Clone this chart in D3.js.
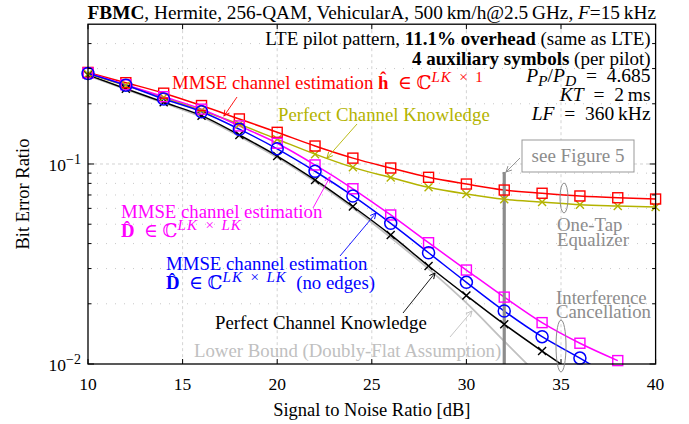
<!DOCTYPE html>
<html>
<head>
<meta charset="utf-8">
<script src="https://cdn.jsdelivr.net/npm/d3@7"></script>
<style>
  body { margin: 0; background: #fff; }
  svg, text, tspan { font-family: "Liberation Serif", "Times New Roman", Times, "DejaVu Serif", serif; }
</style>
</head>
<body>
<div id="chart"></div>
<script>
// values (BER vs SNR)
const snr = [10, 12, 14, 16, 18, 20, 22, 24, 26, 28, 30, 32, 34, 36, 38, 40];

const berMmseH        = [0.287, 0.255, 0.226, 0.196, 0.168, 0.144, 0.123, 0.107, 0.0955, 0.0858, 0.0794, 0.0741, 0.0714, 0.0692, 0.0678, 0.0668];
const berPerfectOneTap = [0.282, 0.247, 0.215, 0.185, 0.158, 0.133, 0.112, 0.0962, 0.0856, 0.0765, 0.0708, 0.0666, 0.0646, 0.0626, 0.0617, 0.0610];
const berMmseD        = [0.285, 0.249, 0.217, 0.188, 0.155, 0.127, 0.0989, 0.0752, 0.0556, 0.0404, 0.0295, 0.0216, 0.0161, 0.0127, 0.0104];
const berMmseDNoEdges = [0.2835, 0.2474, 0.2113, 0.1826, 0.1493, 0.1191, 0.0920, 0.0692, 0.0505, 0.0360, 0.0256, 0.0184, 0.0137, 0.0107, 0.0082];
const berPerfectIC    = [0.2786, 0.2379, 0.2035, 0.1744, 0.1396, 0.1096, 0.0832, 0.0613, 0.0442, 0.0309, 0.0220, 0.0158, 0.0116, 0.0086];
const berLowerBound   = [0.2770, 0.2358, 0.2018, 0.1718, 0.1373, 0.1078, 0.0818, 0.0603, 0.0429, 0.0299, 0.0202, 0.0130, 0.0084];

const xTicks = [10, 15, 20, 25, 30, 35, 40];
const yMajor = [0.01, 0.1];
const yMinor = [0.02, 0.03, 0.04, 0.05, 0.06, 0.07, 0.08, 0.09, 0.2, 0.3, 0.4];
const figureMarkSnr = 32;

const width = 689, height = 424;
const margin = { top: 24.2, right: 33.4, bottom: 60, left: 88 };
const serif = "'Liberation Serif', 'Times New Roman', Times, 'DejaVu Serif', serif";
const labelSize = 18.8;

const svg = d3.select("#chart").append("svg")
  .attr("width", width)
  .attr("height", height)
  .attr("font-family", serif);

svg.append("rect").attr("width", width).attr("height", height).attr("fill", "#fff");

const x = d3.scaleLinear().domain([10, 40]).range([margin.left, width - margin.right]);
const y = d3.scaleLog().domain([0.01, 0.5]).range([height - margin.bottom, margin.top]);

const x0 = x.range()[0], x1 = x.range()[1];
const yb = y.range()[0], yt = y.range()[1];

const defs = svg.append("defs");
defs.append("clipPath").attr("id", "plot-clip")
  .append("rect").attr("x", x0).attr("y", yt).attr("width", x1 - x0).attr("height", yb - yt);

function arrowHead(id, color) {
  defs.append("marker")
    .attr("id", id)
    .attr("viewBox", "0 0 10 10")
    .attr("refX", 9).attr("refY", 5)
    .attr("markerWidth", 7).attr("markerHeight", 7)
    .attr("markerUnits", "userSpaceOnUse")
    .attr("orient", "auto")
    .append("path")
    .attr("d", "M1,1 L9,5 L1,9")
    .attr("fill", "none")
    .attr("stroke", color)
    .attr("stroke-width", 1.3);
}

// grid
const grid = svg.append("g");
grid.selectAll(".vgrid").data(xTicks.slice(1, -1)).enter().append("line")
  .attr("x1", d => x(d)).attr("x2", d => x(d))
  .attr("y1", yt).attr("y2", yb)
  .attr("stroke", "#c8c8c8").attr("stroke-width", 0.8).attr("stroke-dasharray", "3,3");
grid.selectAll(".hmajor").data([0.1]).enter().append("line")
  .attr("x1", x0).attr("x2", x1)
  .attr("y1", d => y(d)).attr("y2", d => y(d))
  .attr("stroke", "#c8c8c8").attr("stroke-width", 0.8).attr("stroke-dasharray", "3,3");
grid.selectAll(".hminor").data(yMinor).enter().append("line")
  .attr("x1", x0).attr("x2", x1)
  .attr("y1", d => y(d)).attr("y2", d => y(d))
  .attr("stroke", "#c8c8c8").attr("stroke-width", 1).attr("stroke-dasharray", "1,8");

// series
const series = [
  { key: "lower",   values: berLowerBound,    color: "#c0c0c0", marker: "none",   width: 1.8 },
  { key: "perfIC",  values: berPerfectIC,     color: "#000000", marker: "x",      width: 1.5 },
  { key: "perf1",   values: berPerfectOneTap, color: "#b3b300", marker: "x",      width: 1.5 },
  { key: "mmseH",   values: berMmseH,         color: "#ff0000", marker: "square", width: 1.5 },
  { key: "mmseD",   values: berMmseD,         color: "#ff00ff", marker: "square", width: 1.5 },
  { key: "mmseDne", values: berMmseDNoEdges,  color: "#0000ff", marker: "circle", width: 1.5 }
];

const line = d3.line()
  .x(d => x(d[0]))
  .y(d => y(d[1]))
  .curve(d3.curveMonotoneX);

const lines = svg.append("g").attr("clip-path", "url(#plot-clip)");

// see Figure 5 bar
svg.append("line")
  .attr("x1", x(figureMarkSnr)).attr("x2", x(figureMarkSnr))
  .attr("y1", 172).attr("y2", yb)
  .attr("stroke", "#8c8c8c").attr("stroke-width", 3.2);

series.forEach(s => {
  const pts = s.values.map((v, i) => [snr[i], v]);
  lines.append("path")
    .datum(pts)
    .attr("d", line)
    .attr("fill", "none")
    .attr("stroke", s.color)
    .attr("stroke-width", s.width);

  const vis = pts.filter(p => p[1] >= 0.01);
  const g = svg.append("g");
  if (s.marker === "square") {
    g.selectAll("rect").data(vis).enter().append("rect")
      .attr("x", d => x(d[0]) - 5).attr("y", d => y(d[1]) - 5)
      .attr("width", 10).attr("height", 10)
      .attr("fill", "none").attr("stroke", s.color).attr("stroke-width", 1.4);
  } else if (s.marker === "circle") {
    g.selectAll("circle").data(vis).enter().append("circle")
      .attr("cx", d => x(d[0])).attr("cy", d => y(d[1])).attr("r", 6)
      .attr("fill", "none").attr("stroke", s.color).attr("stroke-width", 1.5);
  } else if (s.marker === "x") {
    g.selectAll("path").data(vis).enter().append("path")
      .attr("d", d => {
        const cx = x(d[0]), cy = y(d[1]), r = 4;
        return `M${cx - r},${cy - r}L${cx + r},${cy + r}M${cx - r},${cy + r}L${cx + r},${cy - r}`;
      })
      .attr("stroke", s.color).attr("stroke-width", 1.4);
  }
});

// frame and ticks
svg.append("rect")
  .attr("x", x0).attr("y", yt).attr("width", x1 - x0).attr("height", yb - yt)
  .attr("fill", "none").attr("stroke", "#000").attr("stroke-width", 1.3);

const ticks = svg.append("g").attr("stroke", "#000").attr("stroke-width", 1);
xTicks.forEach(t => {
  ticks.append("line").attr("x1", x(t)).attr("x2", x(t)).attr("y1", yb).attr("y2", yb - 5);
  ticks.append("line").attr("x1", x(t)).attr("x2", x(t)).attr("y1", yt).attr("y2", yt + 5);
});
yMajor.concat(yMinor).forEach(t => {
  const len = yMajor.includes(t) ? 6 : 3.5;
  ticks.append("line").attr("x1", x0).attr("x2", x0 + len).attr("y1", y(t)).attr("y2", y(t));
  ticks.append("line").attr("x1", x1).attr("x2", x1 - len).attr("y1", y(t)).attr("y2", y(t));
});

// rich text helper: parts = [[text, flags]]
// flags: b bold, i italic, ^ sup, _ sub, L wider letter spacing
function richText(x, yy, parts, opts) {
  const size = opts.size || labelSize;
  const t = svg.append("text")
    .attr("x", x).attr("y", yy)
    .attr("text-anchor", opts.anchor || "start")
    .attr("fill", opts.color || "#000")
    .style("font-size", size + "px");
  let shift = 0;
  parts.forEach(p => {
    const s = p[0], f = p[1] || "";
    const ts = t.append("tspan").text(s);
    let target = 0;
    if (f.includes("^")) target = -size * 0.38;
    if (f.includes("_")) target = size * 0.22;
    if (target !== shift) { ts.attr("dy", target - shift); shift = target; }
    if (f.includes("^") || f.includes("_")) ts.style("font-size", (size * 0.8) + "px");
    if (f.includes("b")) ts.style("font-weight", "bold");
    if (f.includes("i")) ts.style("font-style", "italic");
    if (f.includes("L")) ts.style("letter-spacing", "1px");
  });
  return t;
}

// tick labels
xTicks.forEach(t => {
  svg.append("text").attr("x", x(t)).attr("y", 390)
    .attr("text-anchor", "middle").style("font-size", "17.5px").text(t);
});
yMajor.forEach(t => {
  richText(x0 - 7, y(t) + 7, [["10"], ["\u2212" + (-Math.log10(t)), "^"]], { size: 17.5, anchor: "end" });
});

// axis titles
svg.append("text").attr("x", (x0 + x1) / 2).attr("y", 416)
  .attr("text-anchor", "middle").style("font-size", "18.5px")
  .text("Signal to Noise Ratio [dB]");
svg.append("text")
  .attr("transform", `translate(29,${(yt + yb) / 2}) rotate(-90)`)
  .attr("text-anchor", "middle").style("font-size", "18.5px")
  .text("Bit Error Ratio");

// title
richText((x0 + x1) / 2, 19, [
  ["FBMC", "b"], [", Hermite, 256-QAM, VehicularA, 500\u2009km/h@2.5\u2009GHz, "],
  ["F", "i"], ["=15\u2009kHz"]
], { size: 19.3, anchor: "middle" });

// top right info
const rx = x1 - 5;
const eq = "\u2002=\u2002";
richText(rx, 45, [["LTE pilot pattern, "], ["11.1% overhead", "b"], [" (same as LTE)"]], { anchor: "end", size: 19 });
richText(rx, 65, [["4 auxiliary symbols", "b"], [" (per pilot)"]], { anchor: "end", size: 19 });
richText(rx, 82, [["P", "i"], ["P", "_i"], ["/"], ["P", "i"], ["D", "_i"], [eq + "4.685"]], { anchor: "end", size: 19.5 });
richText(rx, 100.5, [["KT", "i"], [eq + "2\u2009ms"]], { anchor: "end", size: 19.5 });
richText(rx, 119.5, [["LF", "i"], [eq + "360\u2009kHz"]], { anchor: "end", size: 19.5 });

// curve labels
const inC = "\u2002\u2208 \u2102";
const timesSp = "\u2002\u00d7\u2002";
richText(172, 89, [["MMSE channel estimation "], ["\u0125", "b"], [inC], ["LK", "^iL"], [timesSp + "1", "^"]], { color: "#ff0000" });
richText(278, 121, [["Perfect Channel Knowledge"]], { color: "#b3b300" });
richText(121, 218, [["MMSE channel estimation"]], { color: "#ff00ff" });
richText(121, 237, [["D\u0302", "b"], [inC], ["LK", "^iL"], [timesSp, "^"], ["LK", "^iL"]], { color: "#ff00ff" });
richText(166, 270, [["MMSE channel estimation"]], { color: "#0000ff" });
richText(166, 289, [["D\u0302", "b"], [inC], ["LK", "^iL"], [timesSp, "^"], ["LK", "^iL"], ["\u2002(no edges)"]], { color: "#0000ff" });
richText(215, 329, [["Perfect Channel Knowledge"]], { color: "#000" });
richText(194, 357, [["Lower Bound (Doubly-Flat Assumption)"]], { color: "#c0c0c0" });

// group annotations
richText(557, 231, [["One-Tap"]], { color: "#8c8c8c" });
richText(557, 246, [["Equalizer"]], { color: "#8c8c8c" });
richText(556, 304, [["Interference"]], { color: "#8c8c8c" });
richText(556, 318, [["Cancellation"]], { color: "#8c8c8c" });
svg.append("ellipse").attr("cx", 564).attr("cy", 198).attr("rx", 4).attr("ry", 15)
  .attr("fill", "none").attr("stroke", "#8c8c8c").attr("stroke-width", 1);
svg.append("ellipse").attr("cx", 561).attr("cy", 346).attr("rx", 5).attr("ry", 26)
  .attr("fill", "none").attr("stroke", "#8c8c8c").attr("stroke-width", 1);

// see Figure 5 box
svg.append("rect").attr("x", 522).attr("y", 140).attr("width", 112).attr("height", 32)
  .attr("fill", "#fff").attr("stroke", "#999").attr("stroke-width", 1);
richText(578, 162, [["see Figure 5"]], { color: "#8c8c8c", anchor: "middle", size: 19 });

// arrows
const arrows = [
  { from: [237, 97],  to: [224, 116], color: "#ff0000", id: "ah-red" },
  { from: [357, 124], to: [327, 158], color: "#b3b300", id: "ah-olive" },
  { from: [313, 208], to: [330, 177], color: "#ff00ff", id: "ah-mag" },
  { from: [340, 256], to: [376, 213], color: "#0000ff", id: "ah-blue" },
  { from: [403, 313], to: [435, 273], color: "#000000", id: "ah-black" },
  { from: [450, 337], to: [472, 311], color: "#c0c0c0", id: "ah-gray" },
  { from: [520, 158], to: [506, 172], color: "#8c8c8c", id: "ah-fig" }
];
arrows.forEach(a => {
  arrowHead(a.id, a.color);
  svg.append("line")
    .attr("x1", a.from[0]).attr("y1", a.from[1])
    .attr("x2", a.to[0]).attr("y2", a.to[1])
    .attr("stroke", a.color).attr("stroke-width", 0.9)
    .attr("marker-end", `url(#${a.id})`);
});
</script>
</body>
</html>
